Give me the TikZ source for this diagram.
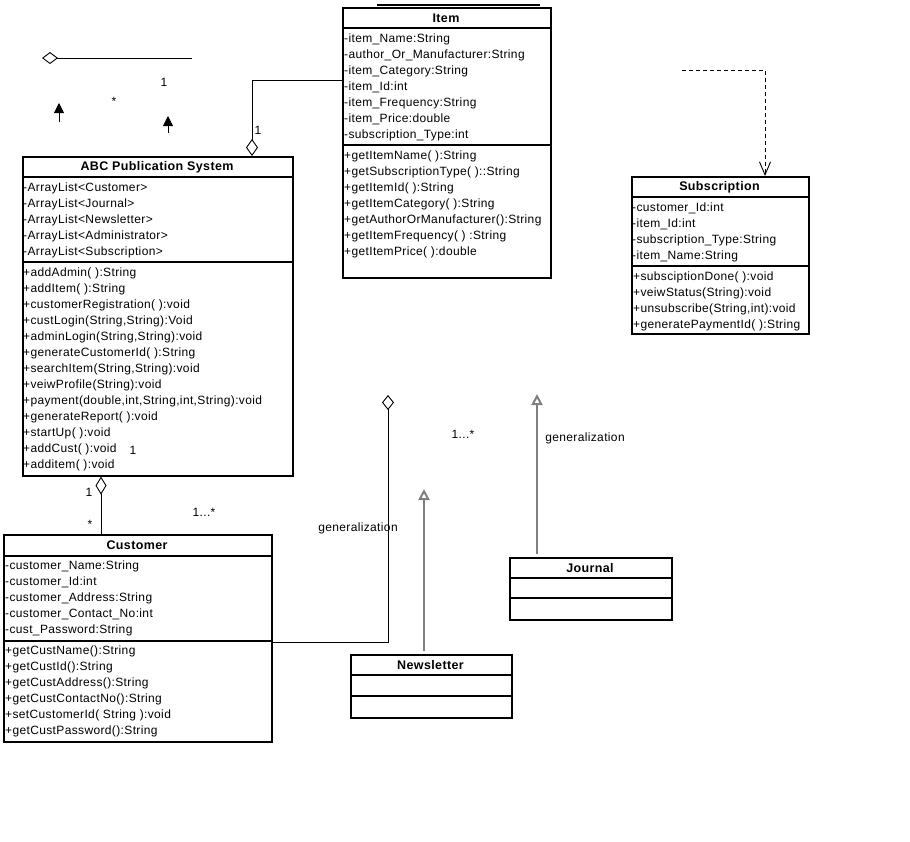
\documentclass[tikz,border=0pt]{standalone}
\usepackage{fontspec}
\setmainfont{Liberation Sans}[LetterSpace=3]
\usetikzlibrary{arrows.meta,calc,positioning}

\begin{document}
\begin{tikzpicture}[x=1pt,y=-1pt,>=Latex,line join=miter]
\useasboundingbox[fill=white] (0,0) rectangle (910,841);
\tikzset{classbox/.style={draw=black,line width=1.6pt,anchor=north west,inner sep=0pt},sep/.style={draw=black,line width=1.6pt},ttl/.style={font=\fontsize{12.5}{14}\selectfont\bfseries,inner sep=0pt},row/.style={anchor=west,font=\fontsize{12}{14}\selectfont,inner sep=0pt,text height=9pt,text depth=1pt},lbl/.style={font=\fontsize{12}{14}\selectfont,inner sep=0pt},link/.style={draw=black,line width=0.9pt},gen/.style={draw=black!50,line width=2pt,shorten <=3pt,-{Triangle[open,length=11pt,width=11pt]}}}
% Item
\node[classbox,minimum width=208pt,minimum height=270pt] (item) at (342,7) {};
\draw[sep] (377,5) -- (540,5);
\node[ttl] (itemT) at (446,18) {Item};
\draw[sep] (item.west |- 0,28) -- (item.east |- 0,28); \draw[sep] (item.west |- 0,145) -- (item.east |- 0,145);
\node[row] (itemA1) at (344,38) {-item\_Name:String};
\node[row] (itemA2) at (344,54) {-author\_Or\_Manufacturer:String};
\node[row] (itemA3) at (344,70) {-item\_Category:String};
\node[row] (itemA4) at (344,86) {-item\_Id:int};
\node[row] (itemA5) at (344,102) {-item\_Frequency:String};
\node[row] (itemA6) at (344,118) {-item\_Price:double};
\node[row] (itemA7) at (344,134) {-subscription\_Type:int};
\node[row] (itemM1) at (344,155) {+getItemName( ):String};
\node[row] (itemM2) at (344,171) {+getSubscriptionType( )::String};
\node[row] (itemM3) at (344,187) {+getItemId( ):String};
\node[row] (itemM4) at (344,203) {+getItemCategory( ):String};
\node[row] (itemM5) at (344,219) {+getAuthorOrManufacturer():String};
\node[row] (itemM6) at (344,235) {+getItemFrequency( ) :String};
\node[row] (itemM7) at (344,251) {+getItemPrice( ):double};
% ABC Publication System
\node[classbox,minimum width=270pt,minimum height=319pt] (abc) at (22,156) {};
\node[ttl] (abcT) at (157,167) {ABC Publication System};
\draw[sep] (abc.west |- 0,177) -- (abc.east |- 0,177); \draw[sep] (abc.west |- 0,262) -- (abc.east |- 0,262);
\node[row] (abcA1) at (23,187) {-ArrayList<Customer>};
\node[row] (abcA2) at (23,203) {-ArrayList<Journal>};
\node[row] (abcA3) at (23,219) {-ArrayList<Newsletter>};
\node[row] (abcA4) at (23,235) {-ArrayList<Administrator>};
\node[row] (abcA5) at (23,251) {-ArrayList<Subscription>};
\node[row] (abcM1) at (23,272) {+addAdmin( ):String};
\node[row] (abcM2) at (23,288) {+addItem( ):String};
\node[row] (abcM3) at (23,304) {+customerRegistration( ):void};
\node[row] (abcM4) at (23,320) {+custLogin(String,String):Void};
\node[row] (abcM5) at (23,336) {+adminLogin(String,String):void};
\node[row] (abcM6) at (23,352) {+generateCustomerId( ):String};
\node[row] (abcM7) at (23,368) {+searchItem(String,String):void};
\node[row] (abcM8) at (23,384) {+veiwProfile(String):void};
\node[row] (abcM9) at (23,400) {+payment(double,int,String,int,String):void};
\node[row] (abcM10) at (23,416) {+generateReport( ):void};
\node[row] (abcM11) at (23,432) {+startUp( ):void};
\node[row] (abcM12) at (23,448) {+addCust( ):void};
\node[row] (abcM13) at (23,464) {+additem( ):void};
% Subscription
\node[classbox,minimum width=177pt,minimum height=157pt] (sub) at (631,176) {};
\node[ttl] (subT) at (719.5,187) {Subscription};
\draw[sep] (sub.west |- 0,197) -- (sub.east |- 0,197); \draw[sep] (sub.west |- 0,266) -- (sub.east |- 0,266);
\node[row] (subA1) at (632,207) {-customer\_Id:int};
\node[row] (subA2) at (632,223) {-item\_Id:int};
\node[row] (subA3) at (632,239) {-subscription\_Type:String};
\node[row] (subA4) at (632,255) {-item\_Name:String};
\node[row] (subM1) at (633,276) {+subsciptionDone( ):void};
\node[row] (subM2) at (633,292) {+veiwStatus(String):void};
\node[row] (subM3) at (633,308) {+unsubscribe(String,int):void};
\node[row] (subM4) at (633,324) {+generatePaymentId( ):String};
% Customer
\node[classbox,minimum width=268pt,minimum height=207pt] (cust) at (3,534) {};
\node[ttl] (custT) at (137,545) {Customer};
\draw[sep] (cust.west |- 0,556) -- (cust.east |- 0,556); \draw[sep] (cust.west |- 0,641) -- (cust.east |- 0,641);
\node[row] (custA1) at (5,565) {-customer\_Name:String};
\node[row] (custA2) at (5,581) {-customer\_Id:int};
\node[row] (custA3) at (5,597) {-customer\_Address:String};
\node[row] (custA4) at (5,613) {-customer\_Contact\_No:int};
\node[row] (custA5) at (5,629) {-cust\_Password:String};
\node[row] (custM1) at (5,650) {+getCustName():String};
\node[row] (custM2) at (5,666) {+getCustId():String};
\node[row] (custM3) at (5,682) {+getCustAddress():String};
\node[row] (custM4) at (5,698) {+getCustContactNo():String};
\node[row] (custM5) at (5,714) {+setCustomerId( String ):void};
\node[row] (custM6) at (5,730) {+getCustPassword():String};
% Journal, Newsletter
\node[classbox,minimum width=162pt,minimum height=62pt] (journal) at (509,557) {};
\node[ttl] (journalT) at (590,568) {Journal};
\draw[sep] (journal.west |- 0,578) -- (journal.east |- 0,578); \draw[sep] (journal.west |- 0,598) -- (journal.east |- 0,598);
\node[classbox,minimum width=161pt,minimum height=63pt] (news) at (350,654) {};
\node[ttl] (newsT) at (430.5,665) {Newsletter};
\draw[sep] (news.west |- 0,675) -- (news.east |- 0,675); \draw[sep] (news.west |- 0,696) -- (news.east |- 0,696);
% connectors
\coordinate (abcTop) at (abc.north -| 252,0); \coordinate (itemIn) at (item.west |- 0,80);
\draw[link,{Diamond[open,length=17pt,width=12pt]}-] (abcTop) |- (itemIn);
\coordinate (abcBot) at (abc.south -| 101,0); \coordinate (custIn) at (cust.north -| 101,0);
\draw[link,{Diamond[open,length=18pt,width=11pt]}-] (abcBot) -- (custIn);
\coordinate (custOut) at (cust.east |- 0,642); \coordinate (aggTip) at (388,395);
\draw[link,{Diamond[open,length=15pt,width=12pt]}-] (aggTip) |- (custOut);
\coordinate (newsTip) at (424,489); \coordinate (journalTip) at (537,394);
\draw[gen] (news.north -| newsTip) -- (newsTip);
\draw[gen] (journal.north -| journalTip) -- (journalTip);
\coordinate (dashA) at (682,70); \coordinate (subIn) at (sub.north -| 765,0);
\draw[link,dashed,dash pattern=on 4pt off 3pt,-{Straight Barb[length=13pt,width=11pt]}] (dashA) -| (subIn);
% loose pieces top left
\coordinate (looseA) at (42,58); \coordinate (looseB) at (192,58);
\draw[link,{Diamond[open,length=16pt,width=12pt]}-] (looseA) -- (looseB);
\coordinate (upA0) at (59,122); \coordinate (upA1) at (59,103);
\coordinate (upB0) at (168,133); \coordinate (upB1) at (168,116);
\draw[link,-{Triangle[length=10pt,width=10pt]}] (upA0) -- (upA1);
\draw[link,-{Triangle[length=10pt,width=10pt]}] (upB0) -- (upB1);
% labels
\node[lbl] (m1) at (164,82) {1}; \node[lbl] (m2) at (114,101) {*};
\node[lbl] (m3) at (258,130) {1}; \node[lbl] (m4) at (133,450) {1};
\node[lbl] (m5) at (89,492) {1}; \node[lbl] (m6) at (90,524) {*};
\node[lbl] (m7) at (204,512) {1...*}; \node[lbl] (m8) at (463,434) {1...*};
\node[lbl] (g1) at (358,528) {generalization}; \node[lbl] (g2) at (585,438) {generalization};
\end{tikzpicture}
\end{document}
